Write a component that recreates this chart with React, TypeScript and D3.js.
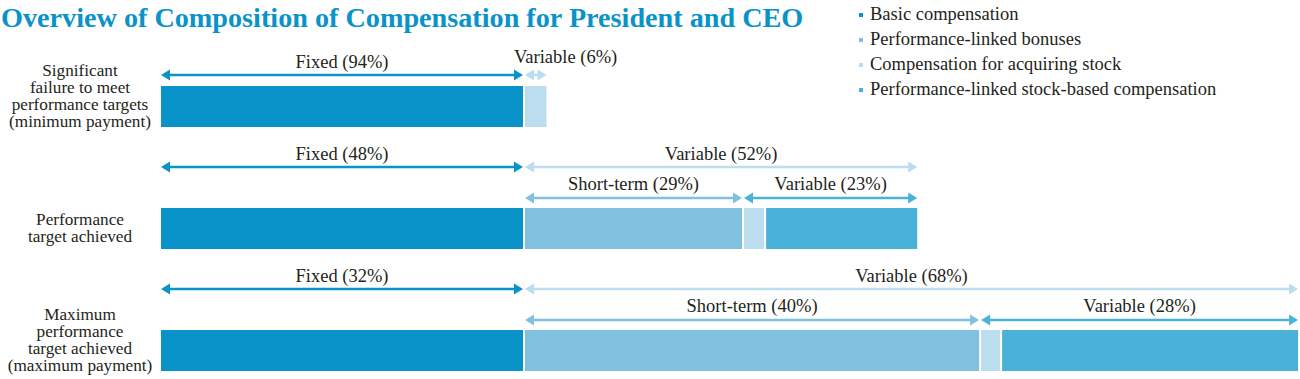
import React from "react";
import * as d3 from "d3";

const title = "Overview of Composition of Compensation for President and CEO";
const scenarioLabels: string[][] = [
  ["Significant", "failure to meet", "performance targets", "(minimum payment)"],
  ["Performance", "target achieved"],
  ["Maximum", "performance", "target achieved", "(maximum payment)"],
];
// amounts relative to basic compensation = 100
const basic = [100, 100, 100];
const bonus = [0, 60.5, 126];
const stock = [6.5, 6.1, 5.8];
const psbc = [0, 42.3, 82.3];
const fixedPct = [94, 48, 32];
const variablePct = [6, 52, 68];
const shortTermPct: (number | null)[] = [null, 29, 40];
const variableSubPct: (number | null)[] = [null, 23, 28];
const legendLabels = [
  "Basic compensation",
  "Performance-linked bonuses",
  "Compensation for acquiring stock",
  "Performance-linked stock-based compensation",
];

const COLORS = ["#0a93c8", "#80c1df", "#bcdcef", "#4ab2d9"];
const TEXT = "#231f20";
const FONT = "'Liberation Serif', 'Times New Roman', serif";

function Arrow({ x1, x2, y, color, left = true, right = true }: any) {
  const hl = 9;
  const hw = 5.5;
  const lx1 = left ? x1 + hl - 1 : x1;
  const lx2 = right ? x2 - hl + 1 : x2;
  return (
    <g>
      {lx2 > lx1 && <line x1={lx1} x2={lx2} y1={y} y2={y} stroke={color} strokeWidth={2.6} />}
      {left && <polygon points={`${x1},${y} ${x1 + hl},${y - hw} ${x1 + hl},${y + hw}`} fill={color} />}
      {right && <polygon points={`${x2},${y} ${x2 - hl},${y - hw} ${x2 - hl},${y + hw}`} fill={color} />}
    </g>
  );
}

export default function App() {
  const x = d3.scaleLinear().domain([0, 100]).range([161, 523]);
  const yRow = d3.scaleLinear().domain([0, 2]).range([86, 330]);
  const barH = 41;
  const gap = 2;
  const fs = 18.5;
  const lfs = 17.2;

  return (
    <svg width={1300} height={379} style={{ position: "absolute", left: 0, top: 0, background: "#fff" }}
      fontFamily={FONT}>
      <text x={1} y={27} fontSize={28.2} fontWeight="bold" fill="#0a93c8">{title}</text>
      {legendLabels.map((l, i) => (
        <g key={l}>
          <rect x={859} y={13 + i * 25} width={4} height={4} fill={COLORS[i]} />
          <text x={870} y={20 + i * 25} fontSize={fs} fill={TEXT}>{l}</text>
        </g>
      ))}
      {scenarioLabels.map((lines, r) => {
        const top = yRow(r);
        const segs = [basic[r], bonus[r], stock[r], psbc[r]];
        let cum = 0;
        const rects: any[] = [];
        segs.forEach((v, i) => {
          if (v <= 0) return;
          const s = x(cum) + (cum > 0 ? gap : 0);
          const e = x(cum + v);
          rects.push(<rect key={i} x={s} y={top} width={e - s} height={barH} fill={COLORS[i]} />);
          cum += v;
        });
        const total = cum;
        const center = top + barH / 2;
        const lh = 17.3;
        const first = center - ((lines.length - 1) * lh) / 2 + (lines.length > 2 ? -5 : 5);
        const x0 = x(0), xf = x(basic[r]), xv = x(basic[r]) + gap, xe = x(total);
        const hasSub = shortTermPct[r] != null;
        const upperY = hasSub ? top - 41 : top - 11;
        const lowerY = top - 10;
        const xb = x(basic[r] + bonus[r]);
        return (
          <g key={r}>
            {lines.map((ln, j) => (
              <text key={j} x={80} y={first + j * lh} textAnchor="middle" fontSize={lfs} fill={TEXT}>{ln}</text>
            ))}
            {rects}
            <Arrow x1={x0} x2={xf} y={upperY} color={COLORS[0]} />
            <text x={(x0 + xf) / 2} y={upperY - 7} textAnchor="middle" fontSize={fs} fill={TEXT}>
              {`Fixed (${fixedPct[r]}%)`}
            </text>
            <Arrow x1={xv} x2={xe} y={upperY} color={COLORS[2]} />
            {hasSub ? (
              <text x={(xv + xe) / 2} y={upperY - 7} textAnchor="middle" fontSize={fs} fill={TEXT}>
                {`Variable (${variablePct[r]}%)`}
              </text>
            ) : (
              <text x={xv - 11} y={upperY - 12} textAnchor="start" fontSize={fs} fill={TEXT}>
                {`Variable (${variablePct[r]}%)`}
              </text>
            )}
            {hasSub && (
              <g>
                <Arrow x1={xv} x2={xb} y={lowerY} color={COLORS[1]} />
                <text x={(xv + xb) / 2} y={lowerY - 8} textAnchor="middle" fontSize={fs} fill={TEXT}>
                  {`Short-term (${shortTermPct[r]}%)`}
                </text>
                <Arrow x1={xb + gap} x2={xe} y={lowerY} color={COLORS[3]} />
                <text x={(xb + gap + xe) / 2} y={lowerY - 8} textAnchor="middle" fontSize={fs} fill={TEXT}>
                  {`Variable (${variableSubPct[r]}%)`}
                </text>
              </g>
            )}
          </g>
        );
      })}
    </svg>
  );
}
